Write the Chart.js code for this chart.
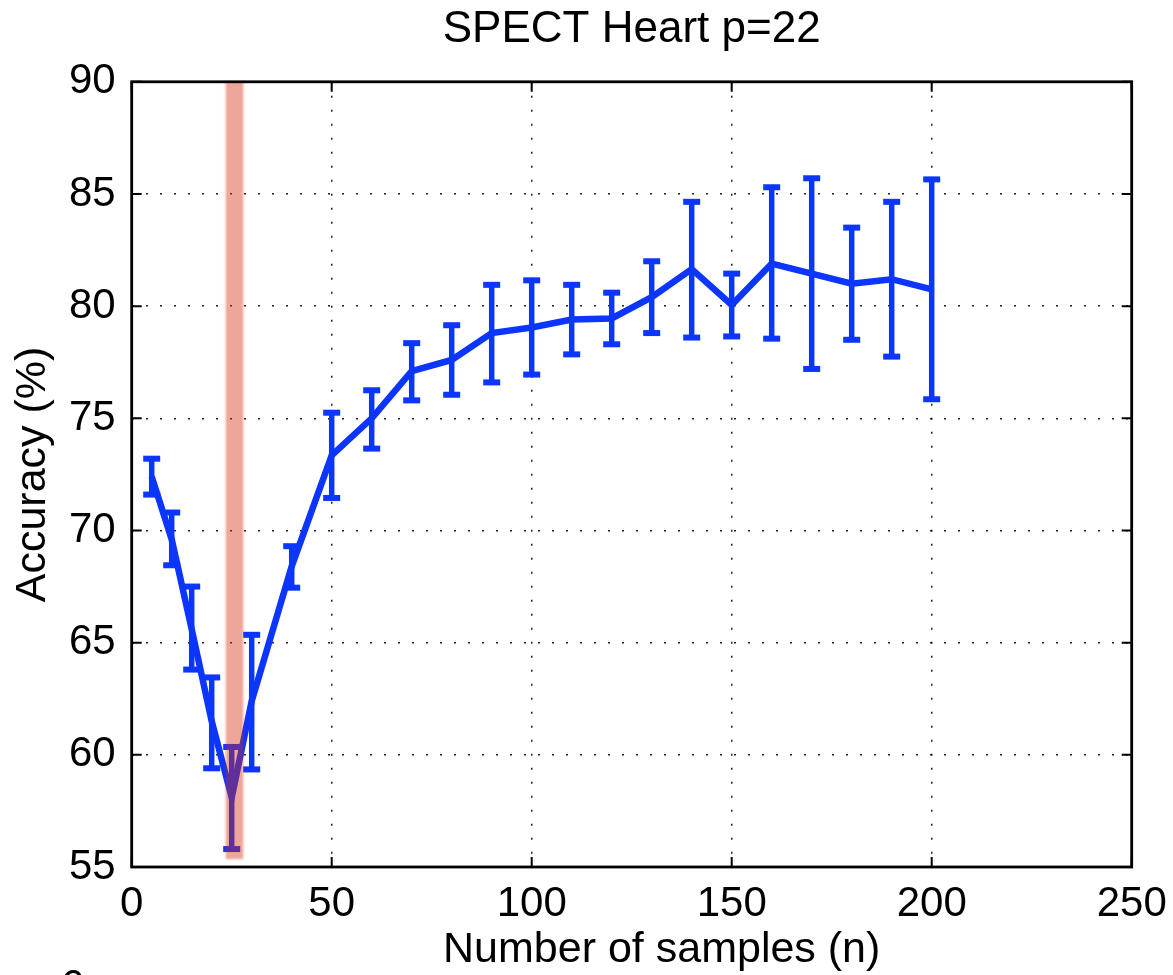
<!DOCTYPE html>
<html>
<head>
<meta charset="utf-8">
<title>SPECT Heart p=22</title>
<script src="https://cdn.jsdelivr.net/npm/chart.js@4/dist/chart.umd.min.js"></script>
<style>
  html, body { margin: 0; padding: 0; background: #fff; }
  canvas { display: block; }
</style>
</head>
<body>
<canvas id="chart" width="1173" height="975"></canvas>
<script>
// data
const sampleSizes = [5, 10, 15, 20, 25, 30, 40, 50, 60, 70, 80, 90, 100, 110, 120, 130, 140, 150, 160, 170, 180, 190, 200];
const accuracy = [72.4, 69.6, 65.6, 61.5, 58.1, 62.4, 68.4, 73.35, 75.0, 77.1, 77.6, 78.8, 79.05, 79.4, 79.45, 80.4, 81.65, 80.05, 81.9, 81.45, 81.0, 81.2, 80.75];
const errLow = [71.6, 68.45, 63.8, 59.4, 55.8, 59.35, 67.45, 71.45, 73.65, 75.8, 76.05, 76.6, 76.95, 77.85, 78.3, 78.8, 78.6, 78.65, 78.55, 77.2, 78.5, 77.75, 75.85];
const errHigh = [73.2, 70.8, 67.5, 63.45, 60.35, 65.35, 69.3, 75.25, 76.25, 78.35, 79.15, 80.95, 81.15, 80.95, 80.6, 82.0, 84.65, 81.45, 85.3, 85.7, 83.5, 84.65, 85.65];

// highlighted band around n=25
const bandX = [23.5, 27.9];
const bandY = [55.35, 90];

const xTicks = [0, 50, 100, 150, 200, 250];
const yTicks = [55, 60, 65, 70, 75, 80, 85, 90];

const lineColor = '#0c35ff';
const fontFamily = "'Liberation Sans', Arial, Helvetica, sans-serif";

const errorBarPlugin = {
    id: 'errorBars',
    afterDatasetsDraw(chart) {
        const ctx = chart.ctx;
        const x = chart.scales.x;
        const y = chart.scales.y;
        ctx.save();
        ctx.strokeStyle = lineColor;
        ctx.fillStyle = lineColor;
        ctx.lineWidth = 5.5;
        ctx.lineCap = 'butt';
        for (let i = 0; i < sampleSizes.length; i++) {
            const px = x.getPixelForValue(sampleSizes[i]);
            const lo = y.getPixelForValue(errLow[i]);
            const hi = y.getPixelForValue(errHigh[i]);
            ctx.beginPath();
            ctx.moveTo(px, lo);
            ctx.lineTo(px, hi);
            ctx.stroke();
            // caps
            ctx.fillRect(px - 8.5, lo - 3, 17, 6);
            ctx.fillRect(px - 8.5, hi - 3, 17, 6);
        }

        // red band drawn over the line, semi transparent
        const bx0 = x.getPixelForValue(bandX[0]);
        const bx1 = x.getPixelForValue(bandX[1]);
        const by0 = y.getPixelForValue(bandY[1]);
        const by1 = y.getPixelForValue(bandY[0]);
        ctx.filter = 'blur(0.8px)';
        ctx.fillStyle = 'rgba(215, 40, 15, 0.42)';
        ctx.fillRect(bx0, by0, bx1 - bx0, by1 - by0);
        ctx.filter = 'none';
        ctx.restore();
    },
    afterDraw(chart) {
        const ctx = chart.ctx;
        const area = chart.chartArea;
        const x = chart.scales.x;
        const y = chart.scales.y;
        ctx.save();
        // axes box
        ctx.strokeStyle = '#000';
        ctx.lineWidth = 2.8;
        ctx.strokeRect(area.left, area.top, area.right - area.left, area.bottom - area.top);

        // inward tick marks on all sides
        ctx.lineWidth = 2;
        ctx.beginPath();
        xTicks.forEach(v => {
            const px = x.getPixelForValue(v);
            ctx.moveTo(px, area.bottom);
            ctx.lineTo(px, area.bottom - 10);
            ctx.moveTo(px, area.top);
            ctx.lineTo(px, area.top + 10);
        });
        yTicks.forEach(v => {
            const py = y.getPixelForValue(v);
            ctx.moveTo(area.left, py);
            ctx.lineTo(area.left + 10, py);
            ctx.moveTo(area.right, py);
            ctx.lineTo(area.right - 10, py);
        });
        ctx.stroke();

        // x label, sits a bit right of centre in the original
        ctx.fillStyle = '#000';
        ctx.font = '43px ' + fontFamily;
        ctx.textAlign = 'center';
        ctx.textBaseline = 'alphabetic';
        ctx.fillText('Number of samples (n)', (area.left + area.right) / 2 + 30, 962);

        // cut off caption at the bottom edge
        ctx.font = '42px ' + fontFamily;
        ctx.textAlign = 'right';
        ctx.fillText('ure 6', 84, 999);
        ctx.restore();
    }
};

function gridColor(ctx) {
    const v = ctx.tick ? ctx.tick.value : null;
    const s = ctx.scale;
    if (v === s.min || v === s.max) {
        return 'rgba(0,0,0,0)';
    }
    return '#222';
}

const chart = new Chart(document.getElementById('chart').getContext('2d'), {
    type: 'line',
    data: {
        datasets: [{
            data: sampleSizes.map((n, i) => ({ x: n, y: accuracy[i] })),
            borderColor: lineColor,
            borderWidth: 6.5,
            pointRadius: 0,
            tension: 0,
            fill: false
        }]
    },
    options: {
        responsive: false,
        animation: false,
        devicePixelRatio: 1,
        layout: {
            padding: { left: 0, right: 41.3, top: 0, bottom: 0 }
        },
        plugins: {
            legend: { display: false },
            tooltip: { enabled: false },
            title: {
                display: true,
                fullSize: false,
                text: 'SPECT Heart p=22',
                color: '#000',
                font: { family: fontFamily, size: 44, weight: 'normal' },
                padding: { top: 3, bottom: 26 }
            }
        },
        scales: {
            x: {
                type: 'linear',
                min: 0,
                max: 250,
                afterFit: (scale) => {
                    scale.height = 108;
                    scale.paddingLeft = 0;
                    scale.paddingRight = 0;
                },
                afterBuildTicks: (scale) => { scale.ticks = xTicks.map(v => ({ value: v })); },
                ticks: {
                    color: '#000',
                    padding: 12,
                    maxRotation: 0,
                    font: { family: fontFamily, size: 42 }
                },
                grid: { color: gridColor, lineWidth: 1.5, drawTicks: false },
                border: { display: false, dash: [2, 12] }
            },
            y: {
                min: 55,
                max: 90,
                afterFit: (scale) => { scale.width = 131.7; },
                afterBuildTicks: (scale) => { scale.ticks = yTicks.map(v => ({ value: v })); },
                ticks: {
                    color: '#000',
                    padding: 16,
                    font: { family: fontFamily, size: 42 }
                },
                grid: { color: gridColor, lineWidth: 1.5, drawTicks: false },
                border: { display: false, dash: [2, 12] },
                title: {
                    display: true,
                    text: 'Accuracy (%)',
                    color: '#000',
                    font: { family: fontFamily, size: 43 },
                    padding: { top: 7, bottom: 0 }
                }
            }
        }
    },
    plugins: [errorBarPlugin]
});
</script>
</body>
</html>
